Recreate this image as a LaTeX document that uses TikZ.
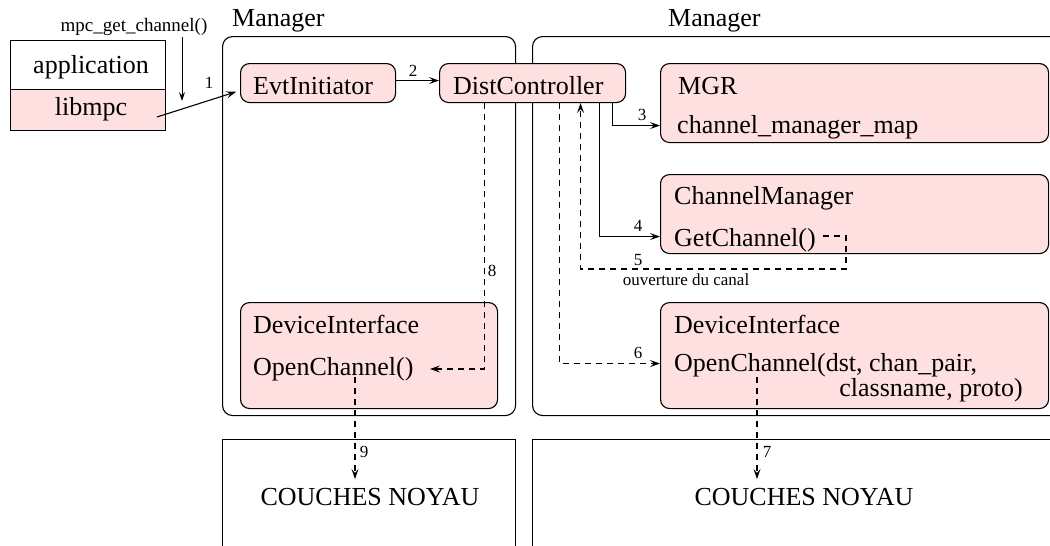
\documentclass[tikz,border=0pt]{standalone}
\usepackage{fontspec}
\setmainfont{Liberation Serif}
\usetikzlibrary{arrows.meta}
\definecolor{pinkfill}{RGB}{255,224,224}
\begin{document}
\begin{tikzpicture}[x=1pt,y=-1pt,
  font=\fontsize{26}{30}\selectfont,
  box/.style={draw, line width=1.1pt, rounded corners=9pt, inner sep=0pt, anchor=north west},
  pinkbox/.style={box, fill=pinkfill},
  plainbox/.style={draw, line width=1.1pt, inner sep=0pt, anchor=north west},
  txt/.style={inner sep=0pt, anchor=base west},
  ctxt/.style={inner sep=0pt, anchor=base},
  lbl/.style={inner sep=0pt, anchor=base, font=\fontsize{17}{20}\selectfont},
  arr/.style={line width=1.1pt, -{Stealth[length=10pt,width=7pt,inset=4pt]}},
  darr/.style={arr, dash pattern=on 6pt off 5pt}
]
\useasboundingbox (0,0) rectangle (1050,546);
\clip (0,0) rectangle (1050,546);

% application / libmpc
\node[plainbox, minimum width=155pt, minimum height=49pt] (app) at (10,40) {};
\node[plainbox, fill=pinkfill, minimum width=155pt, minimum height=41pt] (lib) at (10,89) {};
\node[ctxt] (appt) at (91,73) {application};
\node[ctxt] (libt) at (91,115) {libmpc};
\node[ctxt, font=\fontsize{19}{22}\selectfont] (mpc) at (134,31) {mpc\_get\_channel()};

% Manager frames
\node[box, minimum width=293pt, minimum height=379pt, rounded corners=10pt] (mgrL) at (222,36) {};
\node[box, minimum width=600pt, minimum height=379pt, rounded corners=10pt] (mgrR) at (532,36) {};
\node[txt] (mgrLt) at (232,27) {Manager};
\node[txt] (mgrRt) at (668,27) {Manager};

% kernel frames
\node[plainbox, minimum width=293pt, minimum height=200pt] (kL) at (222,439) {};
\node[plainbox, minimum width=600pt, minimum height=200pt] (kR) at (532,439) {};
\node[ctxt] (kLt) at (370,505) {COUCHES NOYAU};
\node[ctxt] (kRt) at (804,505) {COUCHES NOYAU};

% inner boxes
\node[pinkbox, minimum width=155pt, minimum height=39pt] (ei) at (240,63) {};
\node[txt] (eit) at (253,94) {EvtInitiator};
\node[pinkbox, minimum width=186pt, minimum height=39pt] (dc) at (439,63) {};
\node[txt] (dct) at (453,94) {DistController};

\node[pinkbox, minimum width=388pt, minimum height=79pt] (mgr) at (660,63) {};
\node[txt] (mgrt) at (678,94) {MGR};
\node[txt] (cmm) at (677,133) {channel\_manager\_map};

\node[pinkbox, minimum width=388pt, minimum height=79pt] (cm) at (660,174) {};
\node[txt] (cmt) at (674,204) {ChannelManager};
\node[txt] (gch) at (674,246) {GetChannel()};

\node[pinkbox, minimum width=257pt, minimum height=106pt] (dl) at (240,302) {};
\node[txt] (dlt) at (253,333) {DeviceInterface};
\node[txt] (dlo) at (253,375) {OpenChannel()};

\node[pinkbox, minimum width=388pt, minimum height=106pt] (dr) at (660,302) {};
\node[txt] (drt) at (674,333) {DeviceInterface};
\node[txt] (dro) at (674,371) {OpenChannel(dst, chan\_pair,};
\node[inner sep=0pt, anchor=base east] (dro2) at (1023,396) {classname, proto)};

% free ends
\coordinate (m0) at (182,37);
\coordinate (m1) at (182,101);
\coordinate (s1) at (157,117);
\coordinate (c5) at (823,236);
\coordinate (c5b) at (846,269);
\coordinate (c8) at (430,369);
\coordinate (c9a) at (355,377);
\coordinate (c9b) at (355,479);
\coordinate (c7a) at (757,377);
\coordinate (c7b) at (757,479);

% connectors
\draw[line width=0.8pt, -{Stealth[length=9pt,width=6pt,inset=3.5pt]}] (m0) -- (m1);
\draw[arr, shorten >=4pt] (s1) -- ([yshift=-7.5pt]ei.west);
\node[lbl] at (209,88) {1};

\draw[arr] ([yshift=2.5pt]ei.east) -- ([yshift=2.5pt]dc.west);
\node[lbl] at (413,76) {2};

\draw[arr] ([xshift=80pt]dc.south) |- ([yshift=-22.5pt]mgr.west);
\node[lbl] at (642,120) {3};

\draw[arr] ([xshift=67pt]dc.south) |- ([yshift=-22.5pt]cm.west);
\node[lbl] at (638,231) {4};

\draw[darr] (c5) -| (c5b) -| ([xshift=48pt]dc.south);
\node[lbl] at (638,265) {5};
\node[lbl] at (686,285) {ouverture du canal};

\draw[darr] ([xshift=27pt]dc.south) |- ([yshift=-8pt]dr.west);
\node[lbl] at (638,358) {6};

\draw[darr] ([xshift=-48pt]dc.south) |- (c8);
\node[lbl] at (492,276) {8};

\draw[darr] (c9a) -- (c9b);
\node[lbl] at (364,457) {9};

\draw[darr] (c7a) -- (c7b);
\node[lbl] at (767,457) {7};
\end{tikzpicture}
\end{document}
